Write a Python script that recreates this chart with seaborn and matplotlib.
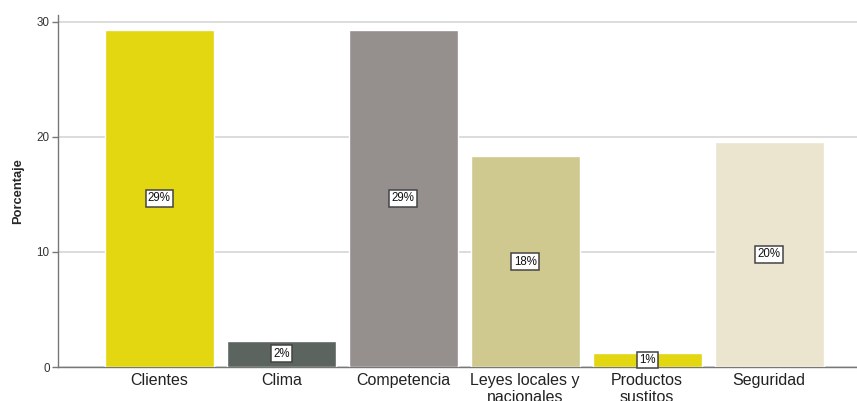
import matplotlib
matplotlib.use("Agg")
import matplotlib.pyplot as plt
import seaborn as sns
import pandas as pd

categorias = ["Clientes", "Clima", "Competencia", "Leyes locales y\nnacionales",
              "Productos\nsustitos", "Seguridad"]
porcentajes = [29.3, 2.3, 29.3, 18.3, 1.2, 19.6]
colores = ["#E2D710", "#5B645E", "#958F8D", "#CFC98F", "#E2D710", "#EBE4CF"]
y_ticks = [0, 10, 20, 30]

sns.set_theme(style="white")
plt.rcParams["font.family"] = ["Liberation Sans", "DejaVu Sans"]

df = pd.DataFrame({"categoria": categorias, "porcentaje": porcentajes})

fig = plt.figure(figsize=(8.57, 4.01), dpi=100)
ax = fig.add_axes([58 / 857, 34 / 401, 1 - 58 / 857, (367 - 15) / 401])

sns.barplot(data=df, x="categoria", y="porcentaje", hue="categoria",
            palette=colores, width=0.895, saturation=1, legend=False,
            ax=ax, zorder=2)

ax.set_xlim(-0.83, 5.72)
ax.set_ylim(0, 30.6)
ax.set_yticks(y_ticks)
ax.set_yticklabels([str(t) for t in y_ticks], fontsize=8.4, color="#333333")
ax.tick_params(axis="x", labelsize=11.5, length=0, pad=4, labelcolor="#222222")
ax.tick_params(axis="y", length=4, width=1, color="#777777", pad=2, left=True)
ax.yaxis.grid(True, color="#D9D9D9", linewidth=1.3, zorder=0)
ax.set_axisbelow(True)

for side in ["top", "right"]:
    ax.spines[side].set_visible(False)
for side in ["left", "bottom"]:
    ax.spines[side].set_color("#777777")
    ax.spines[side].set_linewidth(1)
    ax.spines[side].set_zorder(1)

ax.set_xlabel("")
ax.set_ylabel("Porcentaje", fontsize=9.3, fontweight="bold", labelpad=9)

for i, v in enumerate(porcentajes):
    ax.text(i, v / 2, f"{v:.0f}%", ha="center", va="center", fontsize=8.3,
            color="#111111", zorder=5,
            bbox=dict(boxstyle="square,pad=0.2", facecolor="white",
                      edgecolor="#444444", linewidth=1.1))

fig.savefig("out.png", dpi=100)
